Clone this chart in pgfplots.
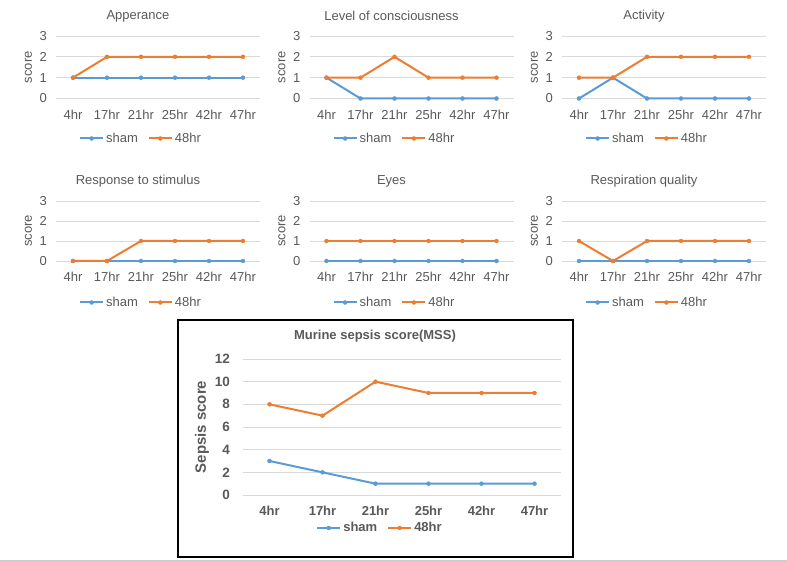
\documentclass[border=0pt]{standalone}
\usepackage{pgfplots}
\pgfplotsset{compat=1.18}
\usepackage{fontspec}
\setmainfont{Liberation Sans}
\definecolor{cblue}{HTML}{5B9BD5}
\definecolor{corange}{HTML}{ED7D31}
\definecolor{ctext}{HTML}{595959}
\definecolor{cgrid}{HTML}{D9D9D9}
\newcommand{\smallfont}{\fontsize{13}{15}\selectfont}
\newcommand{\bigfont}{\fontsize{13}{15}\selectfont\bfseries}
\pgfplotsset{
  base/.style={
    scale only axis, clip=false,
    /pgf/number format/assume math mode=true,
    xmin=-0.5, xmax=5.5, xtick={0,...,5},
    xticklabels={4hr,17hr,21hr,25hr,42hr,47hr},
    axis line style={draw=none}, major tick length=0pt,
    ymajorgrids, grid style={cgrid, line width=0.9pt},
    tick label style={text=ctext},
    label style={text=ctext},
    title style={text=ctext},
    xticklabel style={anchor=base, inner sep=0pt},
    yticklabel style={anchor=east, inner sep=0pt},
    legend columns=2,
    legend style={draw=none, fill=none, text=ctext, inner sep=0pt,
      /tikz/every even column/.append style={column sep=8pt}},
    legend image code/.code={\draw[mark repeat=2, mark phase=2, #1] plot coordinates {(0pt,0pt) (11.5pt,0pt) (23pt,0pt)};},
    every axis plot/.append style={line width=2pt, mark=*, mark size=2pt, mark options={line width=0.4pt}},
  },
  small/.style={base, width=204pt, ymin=0, ymax=3, ytick={0,1,2,3},
    tick label style={font=\smallfont},
    label style={font=\smallfont},
    title style={font=\smallfont},
    xticklabel style={yshift=-21pt},
    yticklabel style={xshift=-9pt},
    ylabel={score},
    ylabel style={at={(axis description cs:-0.135,0.5)}, anchor=center},
    title style={at={(axis description cs:0.5,1)}, anchor=center, xshift=-20pt, yshift=14pt},
    legend style={font=\smallfont, at={(axis description cs:0.5,0)}, anchor=center, xshift=-17pt, yshift=-40pt},
  },
  row1/.style={height=62.5pt},
  row2/.style={height=60pt, legend style={yshift=-1.5pt}},
}
\begin{document}
\begin{tikzpicture}
\path[use as bounding box] (0pt,0pt) rectangle (787pt,562pt);
\draw[gray!40, line width=1.5pt] (0pt,1pt) -- (787pt,1pt);

% Row 1
\begin{axis}[small, row1, at={(56pt,463.5pt)}, title={Apperance}]
\addplot[cblue] coordinates {(0,1)(1,1)(2,1)(3,1)(4,1)(5,1)};
\addplot[corange] coordinates {(0,1)(1,2)(2,2)(3,2)(4,2)(5,2)};
\legend{sham,48hr}
\end{axis}
\begin{axis}[small, row1, at={(309.5pt,463.5pt)}, title={Level of consciousness}]
\addplot[cblue] coordinates {(0,1)(1,0)(2,0)(3,0)(4,0)(5,0)};
\addplot[corange] coordinates {(0,1)(1,1)(2,2)(3,1)(4,1)(5,1)};
\legend{sham,48hr}
\end{axis}
\begin{axis}[small, row1, at={(562pt,463.5pt)}, title={Activity}]
\addplot[cblue] coordinates {(0,0)(1,1)(2,0)(3,0)(4,0)(5,0)};
\addplot[corange] coordinates {(0,1)(1,1)(2,2)(3,2)(4,2)(5,2)};
\legend{sham,48hr}
\end{axis}

% Row 2
\begin{axis}[small, row2, at={(56pt,301pt)}, title={Response to stimulus}]
\addplot[cblue] coordinates {(0,0)(1,0)(2,0)(3,0)(4,0)(5,0)};
\addplot[corange] coordinates {(0,0)(1,0)(2,1)(3,1)(4,1)(5,1)};
\legend{sham,48hr}
\end{axis}
\begin{axis}[small, row2, at={(309.5pt,301pt)}, title={Eyes}]
\addplot[cblue] coordinates {(0,0)(1,0)(2,0)(3,0)(4,0)(5,0)};
\addplot[corange] coordinates {(0,1)(1,1)(2,1)(3,1)(4,1)(5,1)};
\legend{sham,48hr}
\end{axis}
\begin{axis}[small, row2, at={(562pt,301pt)}, title={Respiration quality}]
\addplot[cblue] coordinates {(0,0)(1,0)(2,0)(3,0)(4,0)(5,0)};
\addplot[corange] coordinates {(0,1)(1,0)(2,1)(3,1)(4,1)(5,1)};
\legend{sham,48hr}
\end{axis}

% Big chart
\draw[black, line width=1.2pt] (178pt,5pt) rectangle (573pt,242pt);
\begin{axis}[base, at={(243pt,67pt)}, width=318pt, height=136pt,
  ymin=0, ymax=12, ytick={0,2,...,12},
  xticklabel style={yshift=-20.5pt, font=\bigfont},
  yticklabel style={xshift=-13pt, font=\fontsize{13.5}{15}\selectfont\bfseries},
  ylabel={Sepsis score},
  ylabel style={at={(axis description cs:-0.129,0.5)}, anchor=center, font=\fontsize{15}{17}\selectfont\bfseries},
  title={Murine sepsis score(MSS)},
  title style={at={(axis description cs:0.5,1)}, anchor=center, xshift=-27pt, yshift=17pt, font=\bigfont},
  legend style={font=\bigfont, at={(axis description cs:0.5,0)}, anchor=center, xshift=-22pt, yshift=-33pt},
]
\addplot[cblue] coordinates {(0,3)(1,2)(2,1)(3,1)(4,1)(5,1)};
\addplot[corange] coordinates {(0,8)(1,7)(2,10)(3,9)(4,9)(5,9)};
\legend{sham,48hr}
\end{axis}
\end{tikzpicture}
\end{document}
